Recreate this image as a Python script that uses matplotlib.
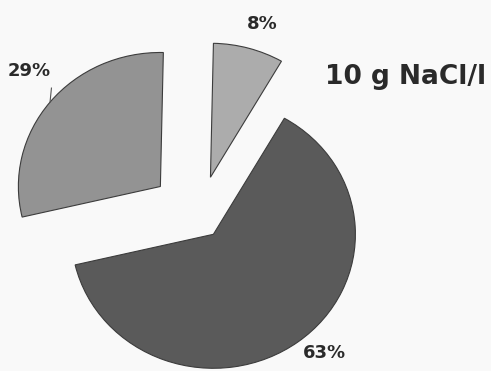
import numpy as np
import matplotlib
matplotlib.use("Agg")
import matplotlib.pyplot as plt

# slice shares (percent), counter-clockwise from the top-right
labels = ['8%', '29%', '63%']
values = [8, 29, 63]
colours = ['#acacac', '#939393', '#5a5a5a']
explode = [0.30, 0.35, 0.17]
title = '10 g NaCl/l'

W, H = 491, 371
SX, SY = 142.0, 134.0   # px per unit radius, pie looks a bit tilted
CX, CY = 199.0, 216.0   # pie centre, pixels from top-left

fig = plt.figure(figsize=(4.91, 3.71), dpi=100)
fig.patch.set_facecolor('#f9f9f9')
ax = fig.add_axes([0, 0, 1, 1])
ax.set_facecolor('#f9f9f9')

wedges, texts = ax.pie(
	values, colors=colours, explode=explode, startangle=60,
	counterclock=True,
	wedgeprops=dict(edgecolor='#3c3c3c', linewidth=0.8),
)

def polar(w, r, dang=0.0):
	a = np.deg2rad((w.theta1 + w.theta2) / 2.0 + dang)
	return w.center[0] + r * np.cos(a), w.center[1] + r * np.sin(a)

tstyle = dict(fontsize=13, fontweight='bold', color='#2a2a2a',
	ha='center', va='center')

# 8% and 63% labels sit just outside their slices
x, y = polar(wedges[0], 1.2, -2)
ax.text(x, y, labels[0], **tstyle)
x, y = polar(wedges[2], 1.18, 5)
ax.text(x, y, labels[2], **tstyle)

# 29% label with a short leader line up from the rim
x0, y0 = polar(wedges[1], 1.0)
ax.plot([x0, x0 + 0.01], [y0, y0 + 0.105], color='#555555', linewidth=0.8)
ax.text(x0 - 0.15, y0 + 0.23, labels[1], **tstyle)

ax.set_xlim(-CX / SX, (W - CX) / SX)
ax.set_ylim(-(H - CY) / SY, CY / SY)
ax.set_aspect('auto')
ax.axis('off')

fig.text(0.826, 0.792, title, fontsize=19, fontweight='bold',
	color='#2a2a2a', ha='center', va='center')

plt.savefig('out.png', dpi=100, facecolor=fig.get_facecolor())
plt.close()
